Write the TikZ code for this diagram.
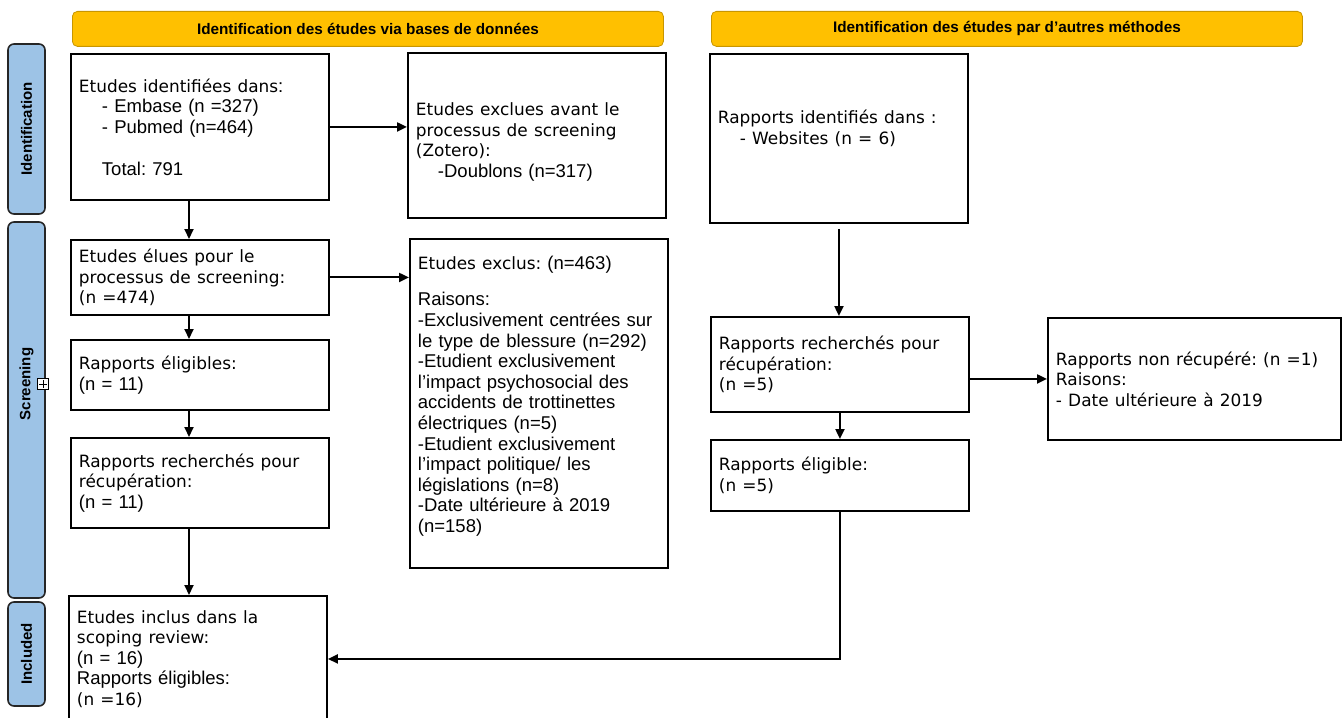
\documentclass[tikz,border=0pt]{standalone}
\usepackage{fontspec}
\setmainfont{Liberation Sans}
\newfontfamily\tahomafont{DejaVu Sans}[Scale=0.915]
\newcommand{\tah}[1]{{\tahomafont #1}}
\usepackage{xcolor}
\usepackage{tikz}
\usetikzlibrary{arrows.meta, positioning}
\frenchspacing

\definecolor{hdrfill}{HTML}{FFC000}
\definecolor{hdrline}{HTML}{C89600}
\definecolor{barfill}{HTML}{9DC3E6}
\definecolor{barline}{HTML}{262626}

\begin{document}
\begin{tikzpicture}[
    x=1pt, y=-1pt,
    phase/.style={
        rectangle, rounded corners=6pt,
        draw=barline, line width=1.6pt, fill=barfill,
        rotate=90, minimum height=37pt, inner sep=0pt,
        font=\fontsize{15}{15}\selectfont\bfseries
    },
    header/.style={
        rectangle, rounded corners=5pt,
        draw=hdrline, line width=0.8pt, fill=hdrfill,
        minimum width=591pt, minimum height=35pt,
        anchor=north west,
        font=\fontsize{15.3}{15.3}\selectfont\bfseries
    },
    box/.style={
        rectangle, draw=black, line width=1.9pt,
        anchor=north west, align=left,
        text width=242pt, minimum width=258pt,
        inner xsep=8pt, inner ysep=0pt,
        font=\fontsize{18.5}{20.6}\selectfont
    },
    arrow/.style={-{Triangle[length=10pt, width=9pt]}, line width=2pt},
]

\clip (0,0) rectangle (1343,717);

% Phases
\node[phase, minimum width=170pt] (ident) at (26.5,129) {Identification};
\node[phase, minimum width=376pt] (screen) at (26.5,410) {\hspace*{52pt}Screening};
\node[phase, minimum width=104pt] (incl) at (26.5,654) {Included};
\node[draw, fill=white, line width=0.8pt, minimum size=11pt, inner sep=0pt] (plus) at (43,384) {};
\draw[line width=0.8pt, shorten <=2pt, shorten >=2pt] (plus.west) -- (plus.east);
\draw[line width=0.8pt, shorten <=2pt, shorten >=2pt] (plus.north) -- (plus.south);

% En-tetes
\node[header] (hdrdb) at (72,11) {Identification des études via bases de données};
\node[header] (hdroth) at (711,11) {Identification des études par d’autres méthodes};

%% Bases de donnees
\node[box, minimum height=146pt] (A) at (70,53)
    {\tah{Etudes identifiées dans}:\\
     \hspace*{23pt}- Embase (n =327)\\
     \hspace*{23pt}- Pubmed (n=464)\\[21pt]
     \hspace*{23pt}Total: 791};
\node[box, minimum height=165pt] (B) at (407,52)
    {\rule{0pt}{26pt}\tah{Etudes exclues avant le}\\
     \tah{processus de screening}\\
     \tah{(Zotero):}\\
     \hspace*{22pt}-Doublons (n=317)};
\node[box, minimum height=75pt] (C) at (70,239)
    {\tah{Etudes élues pour le}\\
     \tah{processus de screening:}\\
     \tah{(n =474)}};
\node[box, minimum height=329pt] (D) at (409,238)
    {\tah{Etudes exclus:} (n=463)\\[16pt]
     Raisons:\\
     -Exclusivement centrées sur\\
     le type de blessure (n=292)\\
     -Etudient exclusivement\\
     l’impact psychosocial des\\
     accidents de trottinettes\\
     électriques (n=5)\\
     -Etudient exclusivement\\
     l’impact politique/ les\\
     législations (n=8)\\
     -Date ultérieure à 2019\\
     (n=158)\\[-2pt]\mbox{}};
\node[box, minimum height=70pt] (E) at (70,339)
    {\tah{Rapports éligibles:}\\
     (n = 11)};
\node[box, minimum height=90pt] (F) at (70,437)
    {\tah{Rapports recherchés pour}\\
     \tah{récupération:}\\
     (n = 11)};
\node[box, minimum height=126pt] (G) at (68,595)
    {\tah{Etudes inclus dans la}\\
     \tah{scoping review:}\\
     (n = 16)\\
     Rapports éligibles:\\
     \tah{(n =16)}};

%% Autres methodes
\node[box, minimum height=169pt] (H) at (709,53)
    {\tah{Rapports identifiés dans :}\\
     \hspace*{22pt}\tah{- Websites (n = 6)}\\[2pt]\mbox{}};
\node[box, minimum height=95pt] (I) at (710,316)
    {\tah{Rapports recherchés pour}\\
     \tah{récupération:}\\
     \tah{(n =5)}};
\node[box, minimum height=122pt, minimum width=293pt, text width=277pt] (J) at (1047,317)
    {\tah{Rapports non récupéré: (n =1)}\\
     \tah{Raisons:}\\
     \tah{- Date ultérieure à 2019}};
\node[box, minimum height=71pt] (K) at (710,439)
    {\tah{Rapports éligible:}\\
     \tah{(n =5)}};

% Fleches
\coordinate (lx) at (189,0);
\draw[arrow] (A.east) -- (A.east -| B.west);
\draw[arrow] (A.south -| lx) -- (C.north -| lx);
\draw[arrow] (C.east) -- (C.east -| D.west);
\draw[arrow] (C.south -| lx) -- (E.north -| lx);
\draw[arrow] (E.south -| lx) -- (F.north -| lx);
\draw[arrow] (F.south -| lx) -- (G.north -| lx);
\draw[arrow, shorten <=5pt] (H.south) -- (H.south |- I.north);
\draw[arrow] (I.east |- J.west) -- (J.west);
\draw[arrow] (I.south) -- (K.north);
\draw[arrow] (K.south) |- (G.east);

\end{tikzpicture}
\end{document}
